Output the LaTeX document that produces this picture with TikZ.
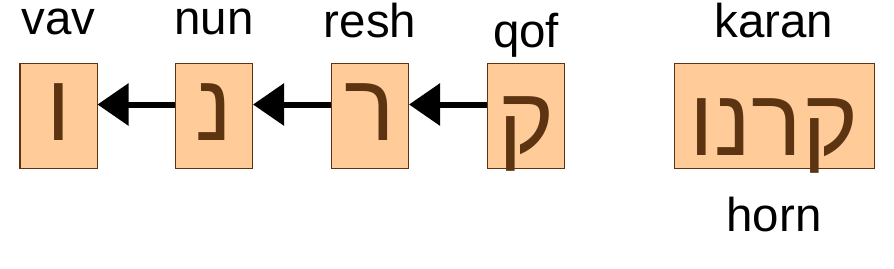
\documentclass[tikz,border=0pt]{standalone}
\usepackage{fontspec}
\setmainfont{Liberation Sans}
\newfontfamily\hebfont[Script=Hebrew]{Liberation Sans}
\TeXXeTstate=1
\usetikzlibrary{positioning,arrows.meta}
\definecolor{peach}{HTML}{FFCC99}
\definecolor{brownink}{HTML}{5C3412}

\begin{document}
\begin{tikzpicture}[
  letterbox/.style={draw=brownink, line width=0.57pt, fill=peach, rectangle,
                    minimum width=1.54cm, minimum height=2.1cm, inner sep=0pt,
                    text=brownink, font=\hebfont\fontsize{54}{60}\selectfont,
                    text height=0.98cm, text depth=0pt},
  lab/.style={anchor=base, inner sep=0pt, font=\fontsize{27}{32}\selectfont},
  ar/.style={-{Triangle[length=0.62cm, width=0.82cm]}, line width=0.12cm},
]
\useasboundingbox (0,0) rectangle (17.88,5.36);
\node[letterbox] (vav)  at (1.17,3.05)  {\beginR ו\endR};
\node[letterbox] (nun)  at (4.28,3.05)  {\beginR נ\endR};
\node[letterbox] (resh) at (7.40,3.05)  {\beginR ר\endR};
\node[letterbox, text height=1.5cm] (qof) at (10.52,3.05) {\beginR ק\endR};
\node[letterbox, minimum width=4cm, text height=1.58cm] (karan) at (15.48,3.05)
  {\beginR קרנו\endR};
\node[lab] (vavlab)   at (1.17,4.68)  {vav};
\node[lab] (nunlab)   at (4.28,4.68)  {nun};
\node[lab] (reshlab)  at (7.40,4.62)  {resh};
\node[lab] (qoflab)   at (10.52,4.42) {qof};
\node[lab] (karanlab) at (15.48,4.62) {karan};
\node[lab] (hornlab)  at (15.48,0.74) {horn};
\draw[ar] ([yshift=0.22cm]qof.west) -- ([yshift=0.22cm]resh.east);
\draw[ar] ([yshift=0.22cm]resh.west) -- ([yshift=0.22cm]nun.east);
\draw[ar] ([yshift=0.22cm]nun.west) -- ([yshift=0.22cm]vav.east);
\end{tikzpicture}
\end{document}
